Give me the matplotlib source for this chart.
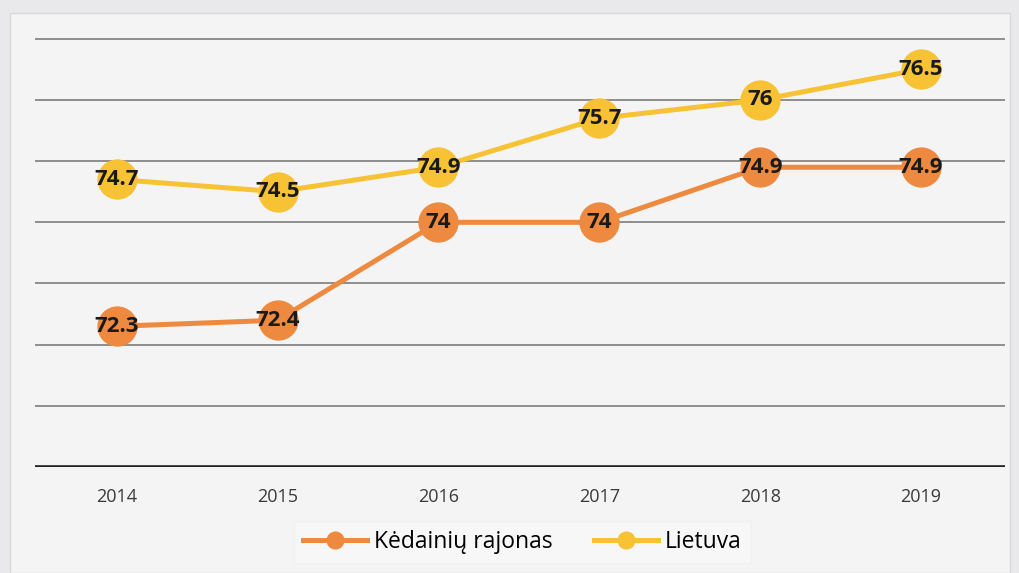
import matplotlib

matplotlib.use("Agg")
import matplotlib.pyplot as plt
from matplotlib.patches import Rectangle

years = ["2014", "2015", "2016", "2017", "2018", "2019"]
kedainiai = [72.3, 72.4, 74, 74, 74.9, 74.9]
lietuva = [74.7, 74.5, 74.9, 75.7, 76, 76.5]
grid_levels = [71, 72, 73, 74, 75, 76, 77]

orange = "#ED8A3F"
yellow = "#F7C334"

plt.rcParams["font.family"] = ["Open Sans", "DejaVu Sans"]

fig = plt.figure(figsize=(10.2, 5.73), dpi=100, facecolor="#e9e9eb")
# light chart panel behind the axes
fig.patches.append(Rectangle((0.01, 0.0), 0.98, 0.978, transform=fig.transFigure,
                             facecolor="#f4f4f5", edgecolor="#d8d8da", lw=1, zorder=-10))
ax = fig.add_axes([0.034, 0.185, 0.951, 0.79])
ax.set_facecolor("none")

x = list(range(len(years)))
for vals, color, name in [(kedainiai, orange, "Kėdainių rajonas"), (lietuva, yellow, "Lietuva")]:
    ax.plot(x, vals, color=color, lw=3.6, marker="o", markersize=29,
            markeredgewidth=0, label=name, zorder=3)
    for xi, v in zip(x, vals):
        ax.text(xi, v, f"{v:g}", ha="center", va="center", fontsize=16,
                fontweight="bold", color="#1a1a1a", zorder=4)

for g in grid_levels:
    ax.axhline(g, color="#7c7c7c", lw=1.2, zorder=1)
ax.axhline(70, color="#222222", lw=2.6, zorder=2)

ax.set_xlim(-0.51, 5.52)
ax.set_ylim(70, 77.4)
ax.set_yticks([])
ax.set_xticks(x)
ax.set_xticklabels(years, fontsize=13, color="#3a3a3a")
ax.tick_params(axis="x", length=0, pad=15)
for s in ax.spines.values():
    s.set_visible(False)

leg = fig.legend(loc="center", bbox_to_anchor=(0.512, 0.054), ncol=2, fontsize=16.5,
                 frameon=True, fancybox=False, edgecolor="#f0f0f0", facecolor="#f9f9f9",
                 markerscale=0.45, handlelength=2.8, columnspacing=1.8,
                 handletextpad=0.3, borderpad=0.4)

fig.savefig("out.png", dpi=100, facecolor=fig.get_facecolor())
